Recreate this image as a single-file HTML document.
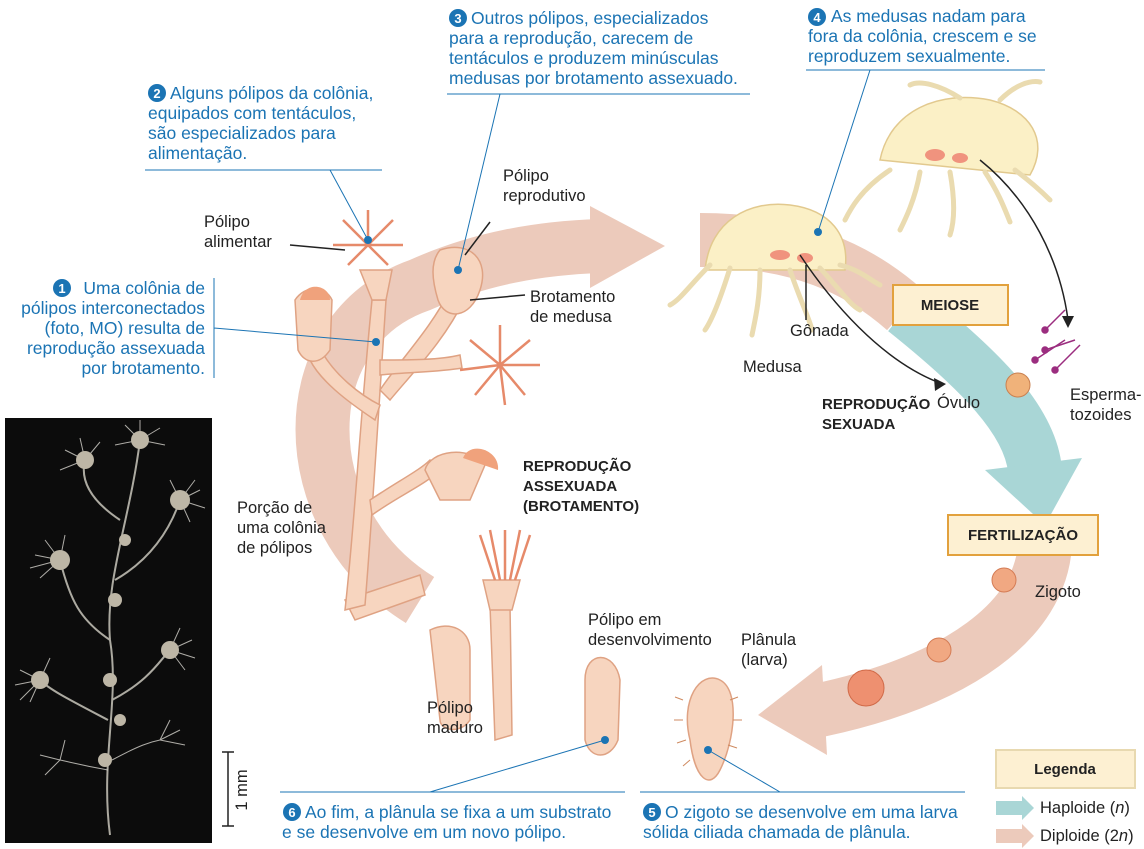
<!DOCTYPE html>
<html><head><meta charset="utf-8"><style>
html,body{margin:0;padding:0;background:#fff}
svg{display:block}
.b{font-family:"Liberation Sans",sans-serif;font-size:17.5px;fill:#1b74b4}
.k{font-family:"Liberation Sans",sans-serif;font-size:16.5px;fill:#222}
.bold{font-family:"Liberation Sans",sans-serif;font-size:15px;font-weight:bold;fill:#222}
.n{font-family:"Liberation Sans",sans-serif;font-size:13px;font-weight:bold;fill:#fff}
</style></head><body>
<svg width="1144" height="849" viewBox="0 0 1144 849" xmlns="http://www.w3.org/2000/svg">
<path d="M420,600 C290,520 290,330 420,285 C480,258 540,248 600,246" fill="none" stroke="#eccabb" stroke-width="54"/>
<polygon points="590,206 665,246 590,288" fill="#eccabb"/>
<path d="M700,240 C800,240 860,270 905,310" fill="none" stroke="#eccabb" stroke-width="54"/>
<path d="M905,310 C980,370 1030,420 1035,470" fill="none" stroke="#a9d6d6" stroke-width="54"/>
<polygon points="985,470 1082,458 1045,525" fill="#a9d6d6"/>
<path d="M1045,545 C1040,620 960,680 820,710" fill="none" stroke="#eccabb" stroke-width="54"/>
<polygon points="822,665 758,715 827,755" fill="#eccabb"/>
<rect x="5" y="418" width="207" height="425" fill="#0c0c0c"/>
<g stroke="#c9c6bb" stroke-width="2" fill="none" opacity="0.85">
<path d="M110,835 C100,760 120,700 110,640 C105,580 130,520 140,440"/>
<path d="M110,640 C80,620 70,600 60,560"/><path d="M115,580 C150,560 170,530 180,500"/>
<path d="M108,720 C70,700 50,690 40,680"/><path d="M112,700 C150,680 160,660 170,650"/>
<path d="M120,520 C90,500 80,480 85,460"/>
</g>
<g stroke="#d8d6cf" stroke-width="1" fill="none" opacity="0.8">
<path d="M140,440 l-15,-15 M140,440 l0,-20 M140,440 l20,-12 M140,440 l25,5 M140,440 l-25,5"/>
<path d="M85,460 l-20,-10 M85,460 l-5,-22 M85,460 l15,-18 M85,460 l-25,10"/>
<path d="M180,500 l20,-10 M180,500 l25,8 M180,500 l10,22 M180,500 l-10,-20 M180,500 l15,-20"/>
<path d="M60,560 l-25,-5 M60,560 l-20,18 M60,560 l-15,-20 M60,560 l5,-25 M60,560 l-30,8"/>
<path d="M170,650 l22,-10 M170,650 l25,8 M170,650 l10,-22 M170,650 l15,20"/>
<path d="M40,680 l-20,-10 M40,680 l-25,5 M40,680 l-10,22 M40,680 l10,-22 M40,680 l-20,20"/>
<path d="M160,740 l20,-10 M160,740 l25,5 M160,740 l10,-20 M60,760 l-20,-5 M60,760 l-15,15 M60,760 l5,-20"/>
<path d="M112,760 C140,745 150,742 160,740 M108,770 C80,765 70,762 60,760"/>
</g>
<g fill="#bdb6a6">
<circle cx="140" cy="440" r="9"/><circle cx="85" cy="460" r="9"/><circle cx="180" cy="500" r="10"/><circle cx="60" cy="560" r="10"/><circle cx="170" cy="650" r="9"/><circle cx="40" cy="680" r="9"/><circle cx="115" cy="600" r="7"/><circle cx="110" cy="680" r="7"/><circle cx="105" cy="760" r="7"/><circle cx="125" cy="540" r="6"/><circle cx="120" cy="720" r="6"/>
</g>
<path d="M222,752 H234 M228,752 V826 M222,826 H234" stroke="#222" stroke-width="1.5" fill="none"/>
<text class="k" transform="translate(247,790) rotate(-90)" text-anchor="middle">1 mm</text>
<g fill="#f7d5bf" stroke="#dfa283" stroke-width="1.5">
<path d="M345,600 L420,575 L425,595 L355,620 Z"/>
<path d="M345,610 C355,520 360,420 372,300 L386,300 C378,420 372,520 365,605 Z"/>
<path d="M372,300 L360,270 L392,270 L386,300 Z"/>
<path d="M380,390 C400,360 430,330 450,290 L465,298 C445,340 415,370 390,400 Z"/>
<path d="M440,250 C470,240 490,260 480,290 C470,320 445,320 438,300 C432,280 430,262 440,250 Z"/>
<path d="M375,420 C345,400 320,380 310,360 L322,352 C335,375 360,395 380,405 Z"/>
<path d="M295,300 C305,285 325,285 332,300 L330,350 C320,365 305,365 298,350 Z"/>
<path d="M370,500 C400,480 420,470 430,460 L440,470 C425,485 400,495 372,515 Z"/>
<path d="M425,470 C430,450 470,445 485,465 L470,500 L440,500 Z"/>
<path d="M380,360 C410,360 440,360 460,355 L462,368 C440,372 410,372 380,375 Z"/>
<path d="M490,605 L510,605 L512,735 L495,740 Z"/>
<path d="M483,580 L520,580 L512,610 L490,610 Z"/>
<path d="M430,630 C450,620 470,630 470,650 L470,720 C460,735 440,730 440,720 Z"/>
<path d="M585,680 C585,650 615,650 620,680 L618,740 C610,760 590,760 585,740 Z"/>
<path d="M690,740 C680,700 700,670 720,680 C740,690 735,740 720,770 C710,790 695,780 690,740 Z"/>
</g>
<g fill="#f0a27c">
<path d="M463,458 C470,440 500,450 498,470 Z"/><path d="M300,300 C305,280 330,285 330,300 Z"/>
</g>
<g stroke="#e68a6a" stroke-width="2.5">
<path d="M368,245 l-25,-25 M368,245 l0,-35 M368,245 l25,-25 M368,245 l35,0 M368,245 l-35,0 M368,245 l-20,20 M368,245 l20,20"/>
<path d="M500,365 l-30,-25 M500,365 l0,-40 M500,365 l30,-25 M500,365 l40,0 M500,365 l-40,5 M500,365 l-25,30 M500,365 l25,30 M500,365 l5,40"/>
<path d="M500,580 l-10,-50 M505,580 l0,-50 M510,580 l10,-50 M495,580 l-15,-45 M515,580 l15,-45"/>
</g>
<g stroke="#cf8a60" stroke-width="1" fill="none">
<path d="M683,700 l-8,-3 M683,720 l-9,0 M686,740 l-9,3 M690,760 l-7,6 M730,700 l8,-3 M733,720 l9,0 M728,745 l9,3"/>
</g>
<g fill="#fbf0c6" stroke="#e2c98e" stroke-width="1.5">
<path d="M705,270 C710,220 750,200 790,205 C830,210 850,235 845,270 Z"/>
<path d="M880,160 C890,110 940,90 990,100 C1030,110 1050,140 1030,175 Z"/>
</g>
<g stroke="#eadbb0" stroke-width="5" fill="none" stroke-linecap="round">
<path d="M710,265 C690,285 680,300 670,305 M730,268 C720,300 712,320 705,330 M760,270 C760,300 755,320 752,335 M790,270 C800,300 810,320 812,330 M820,268 C840,290 850,305 860,310 M840,265 C860,270 870,280 880,285"/>
<path d="M890,170 C860,190 850,210 845,220 M920,172 C915,200 905,220 900,230 M950,172 C955,200 955,220 950,235 M985,172 C1000,195 1005,210 1010,222 M1015,170 C1035,185 1045,195 1050,200 M960,98 C940,85 920,80 910,85 M1000,100 C1015,85 1030,80 1040,82"/>
</g>
<g fill="#f0937e"><ellipse cx="780" cy="255" rx="10" ry="5"/><ellipse cx="805" cy="258" rx="8" ry="5"/><ellipse cx="935" cy="155" rx="10" ry="6"/><ellipse cx="960" cy="158" rx="8" ry="5"/></g>
<circle cx="1018" cy="385" r="12" fill="#f0b27a" stroke="#c98050"/>
<g stroke="#9b2d7f" stroke-width="1.5" fill="#9b2d7f">
<path d="M1035,360 l30,-20"/><circle cx="1035" cy="360" r="3"/>
<path d="M1045,350 l30,-10"/><circle cx="1045" cy="350" r="3"/>
<path d="M1055,370 l25,-25"/><circle cx="1055" cy="370" r="3"/>
<path d="M1045,330 l20,-20"/><circle cx="1045" cy="330" r="3"/>
</g>
<circle cx="1004" cy="580" r="12" fill="#f1a882" stroke="#d47c55"/>
<circle cx="939" cy="650" r="12" fill="#f1a882" stroke="#d47c55"/>
<circle cx="866" cy="688" r="18" fill="#ee9070" stroke="#d06a48"/>
<g stroke="#222" stroke-width="1.5" fill="none">
<path d="M800,255 C830,300 880,360 940,383"/><path d="M980,160 C1030,200 1060,260 1068,320"/>
<path d="M806,265 L806,320"/>
<path d="M290,245 L345,250"/><path d="M490,222 L465,255"/><path d="M525,295 L470,300"/>
</g>
<polygon points="946,384 934,378 935,391" fill="#222"/><polygon points="1068,328 1062,316 1074,316" fill="#222"/>
<g stroke="#1b74b4" stroke-width="1" fill="none">
<path d="M145,170 H382 M330,170 L368,240"/>
<path d="M447,94 H750 M500,94 L458,270"/>
<path d="M806,70 H1045 M870,70 L818,232"/>
<path d="M214,278 V378 M214,328 L376,342"/>
<path d="M280,792 H625 M430,792 L605,740"/>
<path d="M640,792 H965 M780,792 L708,750"/>
</g>
<g fill="#1b74b4"><circle cx="368" cy="240" r="4"/><circle cx="458" cy="270" r="4"/><circle cx="818" cy="232" r="4"/><circle cx="376" cy="342" r="4"/><circle cx="605" cy="740" r="4"/><circle cx="708" cy="750" r="4"/></g>
<circle cx="157" cy="93" r="9" fill="#1b74b4"/><text class="n" x="157" y="98" text-anchor="middle">2</text>
<text class="b" x="170" y="99">Alguns pólipos da colônia,</text>
<text class="b" x="148" y="119">equipados com tentáculos,</text>
<text class="b" x="148" y="139">são especializados para</text>
<text class="b" x="148" y="159">alimentação.</text>
<circle cx="458" cy="18" r="9" fill="#1b74b4"/><text class="n" x="458" y="23" text-anchor="middle">3</text>
<text class="b" x="471" y="24">Outros pólipos, especializados</text>
<text class="b" x="449" y="44">para a reprodução, carecem de</text>
<text class="b" x="449" y="64">tentáculos e produzem minúsculas</text>
<text class="b" x="449" y="84">medusas por brotamento assexuado.</text>
<circle cx="817" cy="17" r="9" fill="#1b74b4"/><text class="n" x="817" y="22" text-anchor="middle">4</text>
<text class="b" x="831" y="22">As medusas nadam para</text>
<text class="b" x="808" y="42">fora da colônia, crescem e se</text>
<text class="b" x="808" y="62">reproduzem sexualmente.</text>
<circle cx="62" cy="288" r="9" fill="#1b74b4"/><text class="n" x="62" y="293" text-anchor="middle">1</text>
<g class="b" text-anchor="end">
<text x="205" y="294">Uma colônia de</text>
<text x="205" y="314">pólipos interconectados</text>
<text x="205" y="334">(foto, MO) resulta de</text>
<text x="205" y="354">reprodução assexuada</text>
<text x="205" y="374">por brotamento.</text>
</g>
<circle cx="292" cy="812" r="9" fill="#1b74b4"/><text class="n" x="292" y="817" text-anchor="middle">6</text>
<text class="b" x="305" y="818">Ao fim, a plânula se fixa a um substrato</text>
<text class="b" x="282" y="838">e se desenvolve em um novo pólipo.</text>
<circle cx="652" cy="812" r="9" fill="#1b74b4"/><text class="n" x="652" y="817" text-anchor="middle">5</text>
<text class="b" x="665" y="818">O zigoto se desenvolve em uma larva</text>
<text class="b" x="643" y="838">sólida ciliada chamada de plânula.</text>
<text class="k" x="204" y="227">Pólipo</text><text class="k" x="204" y="247">alimentar</text>
<text class="k" x="503" y="181">Pólipo</text><text class="k" x="503" y="201">reprodutivo</text>
<text class="k" x="530" y="302">Brotamento</text><text class="k" x="530" y="322">de medusa</text>
<text class="k" x="790" y="336">Gônada</text>
<text class="k" x="743" y="372">Medusa</text>
<text class="k" x="937" y="408">Óvulo</text>
<text class="k" x="1070" y="400">Esperma-</text><text class="k" x="1070" y="420">tozoides</text>
<text class="k" x="1035" y="597">Zigoto</text>
<text class="k" x="741" y="645">Plânula</text><text class="k" x="741" y="665">(larva)</text>
<text class="k" x="588" y="625">Pólipo em</text><text class="k" x="588" y="645">desenvolvimento</text>
<text class="k" x="427" y="713">Pólipo</text><text class="k" x="427" y="733">maduro</text>
<text class="k" x="237" y="513">Porção de</text><text class="k" x="237" y="533">uma colônia</text><text class="k" x="237" y="553">de pólipos</text>
<text class="bold" x="822" y="409">REPRODUÇÃO</text><text class="bold" x="822" y="429">SEXUADA</text>
<text class="bold" x="523" y="471">REPRODUÇÃO</text><text class="bold" x="523" y="491">ASSEXUADA</text><text class="bold" x="523" y="511">(BROTAMENTO)</text>
<rect x="893" y="285" width="115" height="40" fill="#fdf0d2" stroke="#e2a13d" stroke-width="2"/>
<text class="bold" x="950" y="310" text-anchor="middle">MEIOSE</text>
<rect x="948" y="515" width="150" height="40" fill="#fdf0d2" stroke="#e2a13d" stroke-width="2"/>
<text class="bold" x="1023" y="540" text-anchor="middle">FERTILIZAÇÃO</text>
<rect x="996" y="750" width="139" height="38" fill="#fdf0d2" stroke="#e8d9b0" stroke-width="2"/>
<text class="bold" x="1065" y="774" text-anchor="middle">Legenda</text>
<polygon points="996,801 1022,801 1022,796 1034,808 1022,820 1022,815 996,815" fill="#a9d6d6"/>
<polygon points="996,829 1022,829 1022,824 1034,836 1022,848 1022,843 996,843" fill="#eccabb"/>
<text class="k" x="1040" y="813">Haploide (<tspan font-style="italic">n</tspan>)</text>
<text class="k" x="1040" y="841">Diploide (2<tspan font-style="italic">n</tspan>)</text>
</svg>
</body></html>
